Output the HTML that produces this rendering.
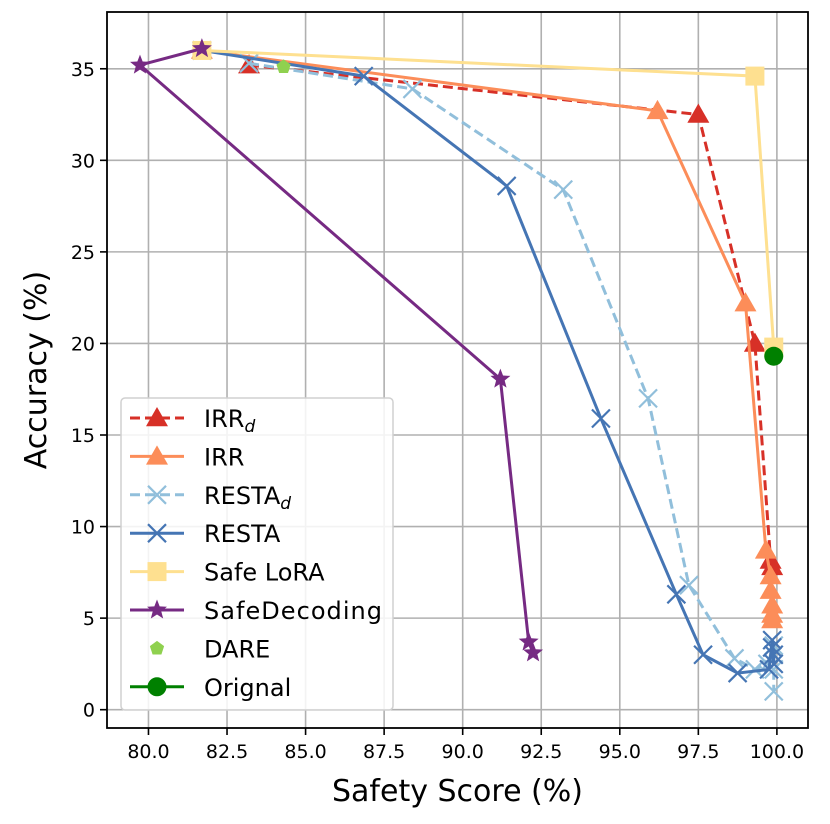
<!DOCTYPE html>
<html><head><meta charset="utf-8"><style>
body{margin:0;background:#fff}
svg{display:block;font-family:"DejaVu Sans","Liberation Sans",sans-serif}
</style></head><body>
<svg id="chart" width="830" height="824" xmlns="http://www.w3.org/2000/svg"></svg>
<script>
const xTicks=[80,82.5,85,87.5,90,92.5,95,97.5,100];
const yTicks=[0,5,10,15,20,25,30,35];
const irrdX=[83.2,97.5,99.3,99.8,99.85];
const irrdY=[35.2,32.5,20.0,8.15,7.8];
const irrX=[81.7,96.2,99.0,99.65,99.8,99.8,99.85,99.85,99.85];
const irrY=[36.0,32.7,22.2,8.7,7.3,6.5,5.7,5.2,4.9];
const restadX=[83.2,88.4,93.2,95.9,97.2,98.65,99.3,99.7,99.9,99.9,99.9];
const restadY=[35.3,33.9,28.4,17.0,6.8,2.8,2.2,2.5,3.5,2.2,1.0];
const restaX=[81.7,86.85,91.4,94.4,96.8,97.65,98.75,99.75,99.85,99.9,99.9,99.85];
const restaY=[36.0,34.6,28.6,15.9,6.3,3.0,2.0,2.2,3.8,3.0,2.5,3.4];
const loraX=[81.7,99.3,99.9];
const loraY=[36.0,34.6,19.8];
const sdX=[81.7,79.73,91.2,92.1,92.24];
const sdY=[36.1,35.2,18.05,3.7,3.1];
const dareX=[84.3];const dareY=[35.1];
const origX=[99.9];const origY=[19.3];

const svg=document.getElementById('chart');
const NS='http://www.w3.org/2000/svg';
const L=107,R=808,T=12,B=728;
const xMin=78.68,xMax=100.99,yMin=-1.0,yMax=38.1;
const sx=v=>L+(v-xMin)/(xMax-xMin)*(R-L);
const sy=v=>B-(v-yMin)/(yMax-yMin)*(B-T);
function mk(tag,at,parent){const e=document.createElementNS(NS,tag);for(const k in at)e.setAttribute(k,at[k]);(parent||svg).appendChild(e);return e;}

const grid=mk('g',{});


xTicks.forEach(t=>{const x=sx(t);mk('line',{x1:x,x2:x,y1:T,y2:B,stroke:'#b0b0b0','stroke-width':1.6},grid);
 mk('line',{x1:x,x2:x,y1:B,y2:B+7,stroke:'#000','stroke-width':1.6});
 const tx=mk('text',{x:x,y:B+30,'font-size':19,'text-anchor':'middle'});tx.textContent=t.toFixed(1);
 
 });
yTicks.forEach(t=>{const y=sy(t);mk('line',{x1:L,x2:R,y1:y,y2:y,stroke:'#b0b0b0','stroke-width':1.6},grid);
 mk('line',{x1:L-7,x2:L,y1:y,y2:y,stroke:'#000','stroke-width':1.6});
 const tx=mk('text',{x:L-12,y:y+7,'font-size':19,'text-anchor':'end'});tx.textContent=t;
 
 });

function marker(type,x,y,color,g,s){
 s=s||1;
 if(type==='tri'){const r=11*s;mk('polygon',{points:`${x},${y-r} ${x-r},${y+r*0.75} ${x+r},${y+r*0.75}`,fill:color},g);}
 else if(type==='x'){const r=9*s;mk('path',{d:`M${x-r},${y-r}L${x+r},${y+r}M${x-r},${y+r}L${x+r},${y-r}`,stroke:color,'stroke-width':2.2,fill:'none'},g);}
 else if(type==='sq'){const r=9.5*s;mk('rect',{x:x-r,y:y-r,width:2*r,height:2*r,fill:color},g);}
 else if(type==='star'){let p=[];for(let i=0;i<10;i++){const a=-Math.PI/2+i*Math.PI/5;const rr=(i%2?4.5:10.5)*s;p.push((x+rr*Math.cos(a))+','+(y+rr*Math.sin(a)));}mk('polygon',{points:p.join(' '),fill:color},g);}
 else if(type==='pent'){let p=[];for(let i=0;i<5;i++){const a=-Math.PI/2+i*2*Math.PI/5;p.push((x+7.5*s*Math.cos(a))+','+(y+7.5*s*Math.sin(a)));}mk('polygon',{points:p.join(' '),fill:color},g);}
 else if(type==='circ'){mk('circle',{cx:x,cy:y,r:9.5*s,fill:color},g);}
}
function series(name,xs,ys,color,type,dash,noLine){
 const g=mk('g',{});
 
 
 if(!noLine){mk('polyline',{points:xs.map((v,i)=>sx(v)+','+sy(ys[i])).join(' '),fill:'none',stroke:color,'stroke-width':3,'stroke-dasharray':dash||'none'},g);}
 xs.forEach((v,i)=>marker(type,sx(v),sy(ys[i]),color,g));
}
series('series-irr-d',irrdX,irrdY,'#d73027','tri','10,5');
series('series-irr',irrX,irrY,'#fc8d59','tri');
series('series-resta-d',restadX,restadY,'#91bfdb','x','10,5');
series('series-resta',restaX,restaY,'#4575b4','x');
series('series-safe-lora',loraX,loraY,'#fee090','sq');
series('series-safedecoding',sdX,sdY,'#762a83','star');
series('series-dare',dareX,dareY,'#8fd14f','pent',null,true);
series('series-original',origX,origY,'#008000','circ');

mk('rect',{x:L,y:T,width:R-L,height:B-T,fill:'none',stroke:'#000','stroke-width':1.8});

const xl=mk('text',{x:(L+R)/2,y:801,'font-size':30,'text-anchor':'middle'});xl.textContent='Safety Score (%)';

const yl=mk('text',{x:0,y:0,'font-size':30,'text-anchor':'middle',transform:`translate(46,${(T+B)/2}) rotate(-90)`});yl.textContent='Accuracy (%)';


const lg=mk('g',{});


mk('rect',{x:121,y:398,width:272,height:312,rx:4,fill:'#fff','fill-opacity':0.85,stroke:'#d0d0d0','stroke-width':1.5},lg);
const entries=[['IRR','d','#d73027','tri','10,5'],['IRR','','#fc8d59','tri',null],['RESTA','d','#91bfdb','x','10,5'],['RESTA','','#4575b4','x',null],['Safe LoRA','','#fee090','sq',null],['SafeDecoding','','#762a83','star',null],['DARE','','#8fd14f','pent','none'],['Orignal','','#008000','circ',null]];
entries.forEach((e,i)=>{const y=418+i*38.4;const eg=mk('g',{},lg);
 
 
 if(e[4]!=='none')mk('line',{x1:130,x2:184,y1:y,y2:y,stroke:e[2],'stroke-width':3,'stroke-dasharray':e[4]||'none'},eg);
 marker(e[3],157,y,e[2],eg);
 const t=mk('text',{x:204,y:y+9,'font-size':24,textLength:e[0]==='SafeDecoding'?178:null},eg);t.textContent=e[0];
 if(!t.getAttribute('textLength')||t.getAttribute('textLength')==='null')t.removeAttribute('textLength');
 if(e[1]){const s=mk('tspan',{'font-size':17,'font-style':'italic',dy:5},t);s.textContent=e[1];}
});
</script>
</body></html>
